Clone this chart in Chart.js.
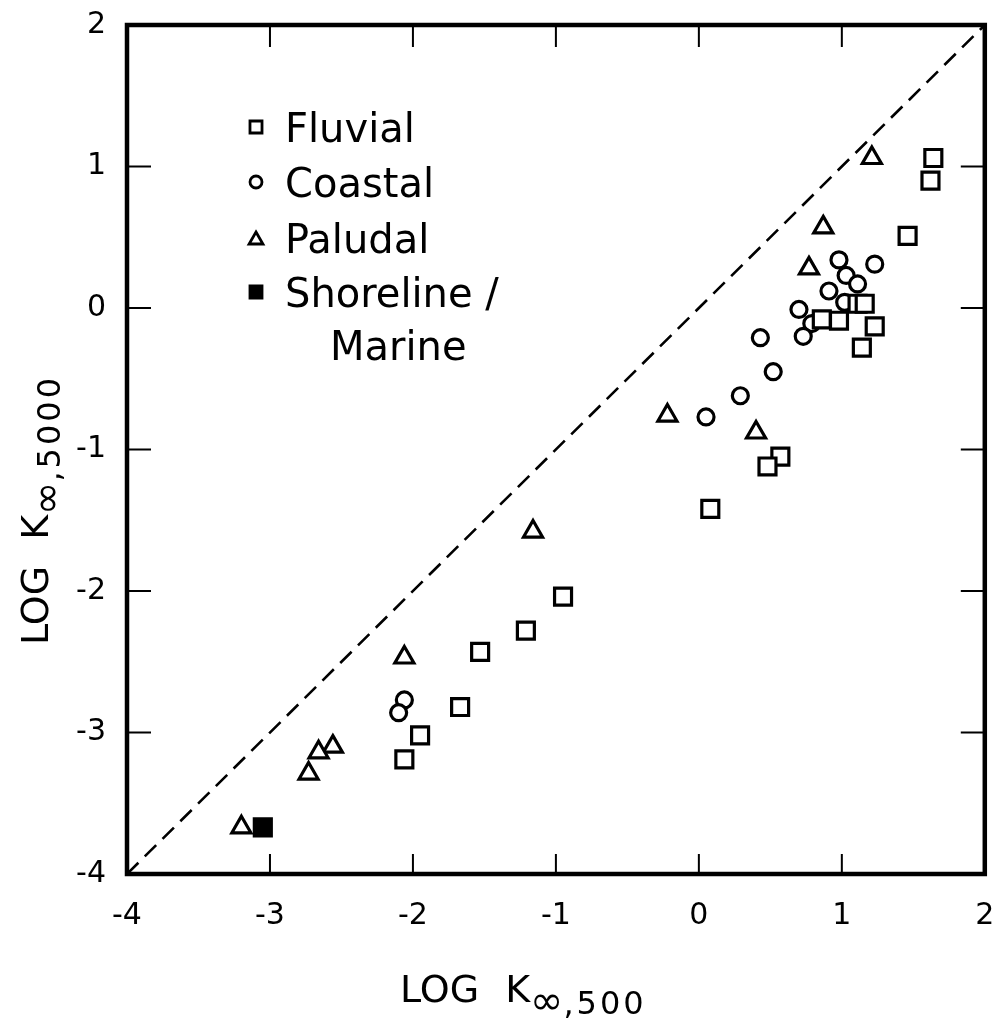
<!DOCTYPE html>
<html><head><meta charset="utf-8">
<script src="https://cdn.jsdelivr.net/npm/chart.js@4/dist/chart.umd.min.js"></script>
<style>html,body{margin:0;padding:0;background:#fff}#wrap{width:1000px;height:1021px}</style>
</head><body><div id="wrap"><canvas id="c" width="1000" height="1021"></canvas></div>
<script>
// ---- data ----
const seriesNames = ['Fluvial', 'Coastal', 'Paludal', 'Shoreline / Marine'];
const fluvialX = [1.64, 1.62, 1.46, 1.11, 1.16, 0.86, 0.98, 1.23, 1.14, 0.57, 0.48, 0.08, -0.95, -1.21, -1.53, -1.67, -1.95, -2.06];
const fluvialY = [1.06, 0.90, 0.51, 0.03, 0.03, -0.08, -0.09, -0.13, -0.28, -1.05, -1.12, -1.42, -2.04, -2.28, -2.43, -2.82, -3.02, -3.19];
const coastalX = [0.98, 1.23, 1.03, 1.11, 0.91, 1.02, 0.70, 0.79, 0.73, 0.43, 0.52, 0.29, 0.05, -2.06, -2.10];
const coastalY = [0.34, 0.31, 0.23, 0.17, 0.12, 0.04, -0.01, -0.11, -0.20, -0.21, -0.45, -0.62, -0.77, -2.77, -2.86];
const paludalX = [1.21, 0.87, 0.77, -0.22, 0.40, -1.16, -2.06, -2.56, -2.66, -2.73, -3.20];
const paludalY = [1.06, 0.57, 0.28, -0.76, -0.88, -1.58, -2.47, -3.10, -3.14, -3.29, -3.67];
const shoreX = [-3.05];
const shoreY = [-3.67];
const diagX = [-4, 2];
const diagY = [-4, 2];
const tickValues = [-4, -3, -2, -1, 0, 1, 2];
const xTickLabels = ['-4', '-3', '-2', '-1', '0', '1', '2'];
const yTickLabels = ['-4', '-3', '-2', '-1', '0', '1', '2'];
const xTitleParts = ['LOG', 'K', '\u221E,500'];
const yTitleParts = ['LOG', 'K', '\u221E,5000'];

const zip = (xs, ys) => xs.map((x, i) => ({x, y: ys[i]}));
const FONT = '"DejaVu Sans", sans-serif';

const styles = [
  {pointStyle: 'rect', radius: 12, fill: '#fff'},
  {pointStyle: 'circle', radius: 8, fill: '#fff'},
  {pointStyle: 'triangle', radius: 11, fill: '#fff'},
  {pointStyle: 'rect', radius: 12, fill: '#000'}
];
const seriesData = [zip(fluvialX, fluvialY), zip(coastalX, coastalY), zip(paludalX, paludalY), zip(shoreX, shoreY)];

const datasets = seriesData.map((d, i) => ({
  type: 'scatter', label: seriesNames[i], data: d,
  pointStyle: styles[i].pointStyle, pointRadius: styles[i].radius, pointHoverRadius: styles[i].radius,
  pointBackgroundColor: styles[i].fill, pointBorderColor: '#000', pointBorderWidth: 3.2
}));
datasets.unshift({
  type: 'line', label: 'diag', data: zip(diagX, diagY), borderColor: '#000', borderWidth: 2.6,
  borderDash: [16, 9], pointRadius: 0, fill: false
});

function drawMarker(ctx, style, r, fill, x, y) {
  ctx.save();
  ctx.lineWidth = 2.8; ctx.strokeStyle = '#000'; ctx.fillStyle = fill;
  ctx.beginPath();
  if (style === 'rect') { const s = r * Math.SQRT1_2; ctx.rect(x - s, y - s, 2 * s, 2 * s); }
  else if (style === 'circle') { ctx.arc(x, y, r, 0, Math.PI * 2); }
  else { ctx.moveTo(x, y - r); ctx.lineTo(x + r * Math.sin(Math.PI / 3), y + r / 2); ctx.lineTo(x - r * Math.sin(Math.PI / 3), y + r / 2); ctx.closePath(); }
  ctx.fill(); ctx.stroke();
  ctx.restore();
}

function drawTitle(ctx, parts, x, y) {
  ctx.letterSpacing = '0px';
  ctx.font = '38px ' + FONT;
  ctx.fillText(parts[0], x, y);
  const kx = x + ctx.measureText(parts[0]).width + 26;
  ctx.fillText(parts[1], kx, y);
  const kw = ctx.measureText(parts[1]).width;
  ctx.font = '40px ' + FONT;
  const inf = parts[2][0];
  ctx.fillText(inf, kx + kw, y + 12);
  const iw = ctx.measureText(inf).width;
  ctx.font = '32px ' + FONT;
  ctx.letterSpacing = '3px';
  ctx.fillText(parts[2].slice(1), kx + kw + iw, y + 12);
  ctx.letterSpacing = '0px';
}

const decor = {
  id: 'decor',
  afterDraw(chart) {
    const ctx = chart.ctx; const {left, right, top, bottom} = chart.chartArea;
    const xs = chart.scales.x, ys = chart.scales.y;
    ctx.save();
    ctx.strokeStyle = '#000';
    ctx.lineWidth = 4.5;
    ctx.strokeRect(left, top, right - left, bottom - top);
    ctx.lineWidth = 2;
    tickValues.slice(1, -1).forEach(v => {
      const px = xs.getPixelForValue(v), py = ys.getPixelForValue(v);
      ctx.beginPath();
      ctx.moveTo(px, bottom); ctx.lineTo(px, bottom - 20);
      ctx.moveTo(px, top); ctx.lineTo(px, top + 22);
      ctx.moveTo(left, py); ctx.lineTo(left + 24, py);
      ctx.moveTo(right, py); ctx.lineTo(right - 24, py);
      ctx.stroke();
    });
    // legend
    ctx.fillStyle = '#000';
    ctx.textBaseline = 'alphabetic'; ctx.textAlign = 'left';
    ctx.font = '40px ' + FONT;
    const rows = [127, 182, 238, 292];
    seriesNames.forEach((name, i) => {
      const st = styles[i];
      const mr = st.pointStyle === 'circle' ? 6 : (st.pointStyle === 'triangle' ? 8 : 8.5);
      drawMarker(ctx, st.pointStyle, mr, st.fill, 256, rows[i] + (st.pointStyle === 'triangle' ? 2 : 0));
      const parts = name.split(' / ');
      if (parts.length > 1) {
        ctx.fillText(parts[0] + ' /', 285, rows[i] + 15);
        ctx.fillText(parts[1], 330, rows[i] + 68);
      } else {
        ctx.fillText(name, 285, rows[i] + 15);
      }
    });
    // x title
    drawTitle(ctx, xTitleParts, 400, 1002);
    // y title
    ctx.save();
    ctx.translate(48, 645); ctx.rotate(-Math.PI / 2);
    drawTitle(ctx, yTitleParts, 0, 0);
    ctx.restore();
    ctx.restore();
  }
};

new Chart(document.getElementById('c'), {
  data: {datasets},
  options: {
    responsive: false, animation: false, devicePixelRatio: 1,
    layout: {padding: {top: 25, right: 12, left: 0, bottom: 0}},
    plugins: {legend: {display: false}, tooltip: {enabled: false}},
    scales: {
      x: {
        type: 'linear', min: -4, max: 2,
        afterFit: s => { s.height = 147; s.paddingLeft = 0; s.paddingRight = 0; },
        afterBuildTicks: s => { s.ticks = tickValues.map(v => ({value: v})); },
        grid: {display: false, drawTicks: false}, border: {display: false},
        ticks: {autoSkip: false, maxRotation: 0, padding: 24, color: '#000', font: {family: FONT, size: 30},
          callback: (v) => xTickLabels[tickValues.indexOf(v)]}
      },
      y: {
        type: 'linear', min: -4, max: 2,
        afterFit: s => { s.width = 127; s.paddingTop = 0; s.paddingBottom = 0; },
        afterBuildTicks: s => { s.ticks = tickValues.map(v => ({value: v})); },
        grid: {display: false, drawTicks: false}, border: {display: false},
        ticks: {autoSkip: false, padding: 21, color: '#000', font: {family: FONT, size: 30},
          callback: (v) => yTickLabels[tickValues.indexOf(v)]}
      }
    }
  },
  plugins: [decor]
});
</script></body></html>
